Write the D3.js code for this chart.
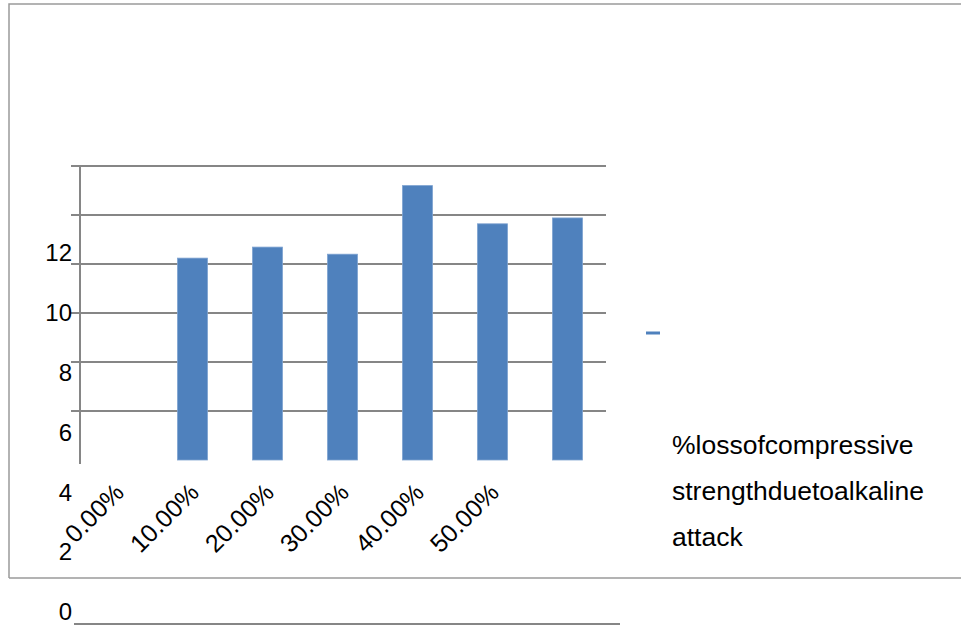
<!DOCTYPE html>
<html>
<head>
<meta charset="utf-8">
<script src="https://cdn.jsdelivr.net/npm/d3@7"></script>
<style>
  html, body { margin: 0; padding: 0; background: #fff; }
  svg { display: block; font-family: Arial, "Liberation Sans", Helvetica, sans-serif; }
</style>
</head>
<body>
<svg id="chart" width="961" height="627"></svg>
<script>
// Category slots along the x axis (the last slot carries no label)
const categories = ["0.00%", "10.00%", "20.00%", "30.00%", "40.00%", "50.00%", ""];
// % loss of compressive strength due to alkaline attack, one value per slot
const lossValues = [null, 8.24, 8.69, 8.40, 11.20, 9.64, 9.88];
// Value-axis tick labels
const yTicks = [0, 2, 4, 6, 8, 10, 12];
const gridValues = [2, 4, 6, 8, 10, 12];
const legendLines = ["%lossofcompressive", "strengthduetoalkaline", "attack"];

const svg = d3.select("#chart");
const grey = "#868686";

// Outer chart frame
svg.append("path")
  .attr("d", "M9,578 L9,4 L961,4 M9,578 L961,578")
  .attr("fill", "none").attr("stroke", "#9a9a9a").attr("stroke-width", 1.5);

const x = d3.scaleBand().domain(d3.range(categories.length)).range([80, 605]).paddingInner(0.6).paddingOuter(0.3);
const y = d3.scaleLinear().domain([0, 12]).range([460, 166]);
// Tick labels sit on their own spacing
const yLab = d3.scaleLinear().domain([0, 12]).range([612, 253]);

// Horizontal gridlines
svg.append("g").selectAll("line").data(gridValues).join("line")
  .attr("x1", 71).attr("x2", 606)
  .attr("y1", d => y(d)).attr("y2", d => y(d))
  .attr("stroke", grey).attr("stroke-width", 2);

// Vertical axis line
svg.append("line").attr("x1", 80).attr("x2", 80).attr("y1", y(12)).attr("y2", 464)
  .attr("stroke", grey).attr("stroke-width", 2);

// Bars
svg.append("g").selectAll("rect").data(lossValues.map((v, i) => ({v, i})).filter(d => d.v != null)).join("rect")
  .attr("x", d => x(d.i)).attr("width", x.bandwidth())
  .attr("y", d => y(d.v)).attr("height", d => y(0) - y(d.v))
  .attr("fill", "#4f81bd").attr("stroke", "#7da2d0").attr("stroke-width", 0.8);

// Value labels
const yAxis = svg.append("g").attr("transform", "translate(72,0)")
  .call(d3.axisLeft(yLab).tickValues(yTicks).tickSize(0).tickPadding(0).tickFormat(d3.format("d")));
yAxis.select(".domain").remove();
yAxis.selectAll("text").attr("font-size", 24).attr("fill", "#000")
  .attr("font-family", "Arial, 'Liberation Sans', sans-serif");

// Baseline drawn beside the "0" label
svg.append("line").attr("x1", 74).attr("x2", 620).attr("y1", 624).attr("y2", 624)
  .attr("stroke", grey).attr("stroke-width", 2);

// Category labels, rotated
svg.append("g").selectAll("text").data(categories.map((c, i) => ({c, i})).filter(d => d.c)).join("text")
  .attr("transform", d => `translate(${x(d.i) + x.bandwidth() / 2 + 8},${494}) rotate(-45)`)
  .attr("text-anchor", "end")
  .attr("font-size", 25).attr("fill", "#000")
  .text(d => d.c);

// Legend
svg.append("line").attr("x1", 646).attr("x2", 660).attr("y1", 333).attr("y2", 333)
  .attr("stroke", "#4f81bd").attr("stroke-width", 3);
svg.append("g").selectAll("text").data(legendLines).join("text")
  .attr("x", 672).attr("y", (d, i) => 454 + i * 46)
  .attr("font-size", 26.5).attr("fill", "#000")
  .text(d => d);
</script>
</body>
</html>
